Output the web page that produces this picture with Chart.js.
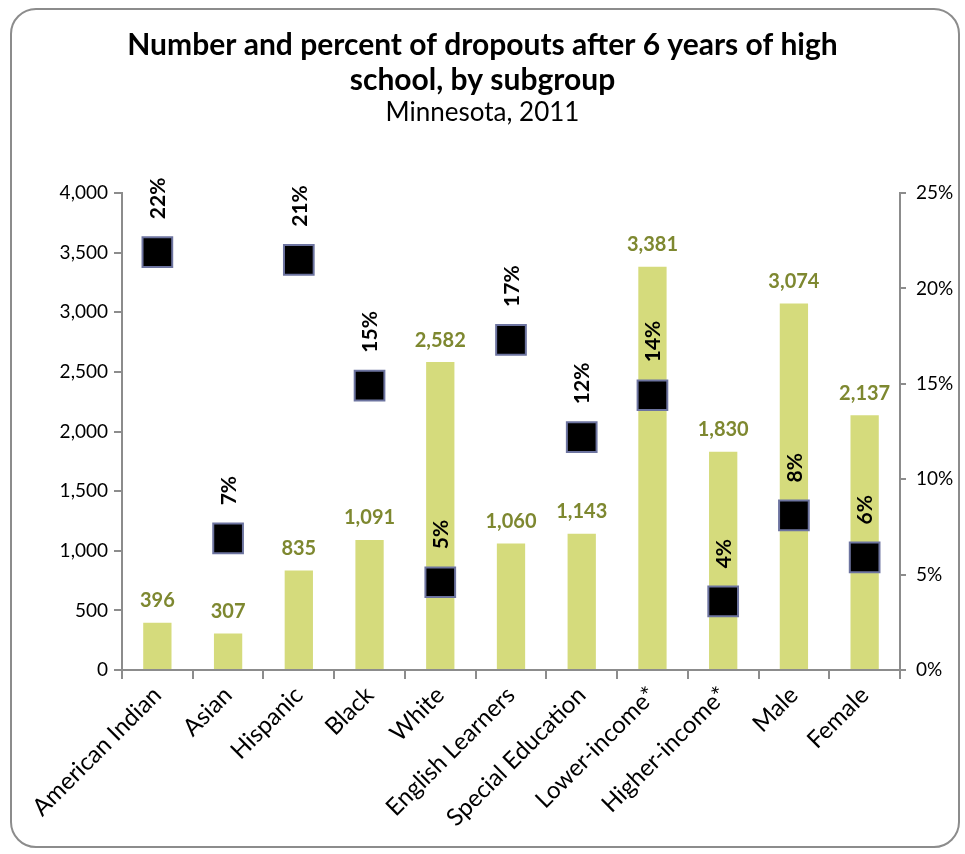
<!DOCTYPE html>
<html>
<head>
<meta charset="utf-8">
<script src="https://cdn.jsdelivr.net/npm/chart.js@4.4.1/dist/chart.umd.min.js"></script>
<style>
  html, body { margin: 0; padding: 0; background: #ffffff; }
  #wrap { position: relative; width: 965px; height: 854px; overflow: hidden; }
  #frame { position: absolute; left: 10px; top: 8px; width: 950px; height: 840px;
           border: 2px solid #8c8c8c; border-radius: 26px; box-sizing: border-box; }
  #c { position: absolute; left: 0; top: 0; }
</style>
</head>
<body>
<div id="wrap">
  <div id="frame"></div>
  <canvas id="c" width="965" height="854"></canvas>
</div>
<script>
const categories = ["American Indian", "Asian", "Hispanic", "Black", "White", "English Learners",
                    "Special Education", "Lower-income*", "Higher-income*", "Male", "Female"];
const dropoutCounts = [396, 307, 835, 1091, 2582, 1060, 1143, 3381, 1830, 3074, 2137];
const dropoutPercents = [21.9, 6.9, 21.5, 14.9, 4.6, 17.3, 12.2, 14.4, 3.6, 8.1, 5.9];
const percentLabels = ["22%", "7%", "21%", "15%", "5%", "17%", "12%", "14%", "4%", "8%", "6%"];
const countTicks = [0, 500, 1000, 1500, 2000, 2500, 3000, 3500, 4000];
const percentTicks = [0, 5, 10, 15, 20, 25];

const FONT = "Lato, 'Open Sans', sans-serif";
const AXIS = "#8c8c8c";

const labelPlugin = {
  id: 'valueLabels',
  afterDatasetsDraw(chart) {
    const ctx = chart.ctx;
    ctx.save();
    const barMeta = chart.getDatasetMeta(0);
    ctx.font = "bold 20px " + FONT;
    ctx.fillStyle = "#7e8830";
    ctx.textAlign = "center";
    ctx.textBaseline = "middle";
    barMeta.data.forEach((el, i) => {
      ctx.fillText(dropoutCounts[i].toLocaleString('en-US'), el.x, el.y - 22);
    });
    const ptMeta = chart.getDatasetMeta(1);
    ctx.font = "bold 21px " + FONT;
    ctx.fillStyle = "#000000";
    ptMeta.data.forEach((el, i) => {
      ctx.save();
      ctx.translate(el.x + 1, el.y - 33);
      ctx.rotate(-Math.PI / 2);
      ctx.textAlign = "left";
      ctx.textBaseline = "middle";
      ctx.fillText(percentLabels[i], 0, 0);
      ctx.restore();
    });
    ctx.restore();
  }
};

new Chart(document.getElementById('c'), {
  type: 'bar',
  data: {
    labels: categories,
    datasets: [
      {
        type: 'bar',
        label: 'Number',
        data: dropoutCounts,
        backgroundColor: '#d5db7c',
        borderWidth: 0,
        barPercentage: 0.4,
        categoryPercentage: 1.0,
        yAxisID: 'y',
        order: 2
      },
      {
        type: 'line',
        label: 'Percent',
        data: dropoutPercents,
        showLine: false,
        pointStyle: 'rect',
        pointRadius: 21,
        pointHoverRadius: 21,
        pointBackgroundColor: '#000000',
        pointBorderColor: '#6d74a0',
        pointBorderWidth: 2,
        yAxisID: 'y1',
        order: 1
      }
    ]
  },
  options: {
    responsive: false,
    animation: false,
    events: [],
    layout: { padding: { left: 0, right: 0, top: 0, bottom: 0 } },
    plugins: {
      legend: { display: false },
      tooltip: { enabled: false },
      title: {
        display: true,
        text: ["Number and percent of dropouts after 6 years of high", "school, by subgroup"],
        color: '#000000',
        font: { family: FONT, size: 30, weight: 'bold', lineHeight: '35px' },
        padding: { top: 28, bottom: 0 }
      },
      subtitle: {
        display: true,
        text: "Minnesota, 2011",
        color: '#000000',
        font: { family: FONT, size: 26, weight: 'normal', lineHeight: '30px' },
        padding: { top: 0, bottom: 65 }
      }
    },
    scales: {
      x: {
        offset: true,
        grid: { display: true, drawOnChartArea: false, drawTicks: true, tickLength: 9,
                color: AXIS, lineWidth: 2, offset: true },
        border: { display: true, color: AXIS, width: 2 },
        ticks: { color: '#000000', font: { family: FONT, size: 24 }, minRotation: 45, maxRotation: 45,
                 autoSkip: false, padding: 2 },
        afterFit(scale) { scale.height = 854 - 670; }
      },
      y: {
        position: 'left',
        min: 0, max: 4000,
        afterBuildTicks(scale) { scale.ticks = countTicks.map(v => ({ value: v })); },
        grid: { display: true, drawOnChartArea: false, drawTicks: true, tickLength: 8,
                color: AXIS, lineWidth: 2 },
        border: { display: true, color: AXIS, width: 2 },
        ticks: { color: '#000000', font: { family: FONT, size: 19 }, padding: 6,
                 callback: v => v.toLocaleString('en-US') },
        afterFit(scale) { scale.width = 122; }
      },
      y1: {
        position: 'right',
        min: 0, max: 25,
        afterBuildTicks(scale) { scale.ticks = percentTicks.map(v => ({ value: v })); },
        grid: { display: true, drawOnChartArea: false, drawTicks: true, tickLength: 6,
                color: AXIS, lineWidth: 2 },
        border: { display: true, color: AXIS, width: 2 },
        ticks: { color: '#000000', font: { family: FONT, size: 19 }, padding: 10,
                 callback: v => v + '%' },
        afterFit(scale) { scale.width = 965 - 900; }
      }
    }
  },
  plugins: [labelPlugin]
});
</script>
</body>
</html>
